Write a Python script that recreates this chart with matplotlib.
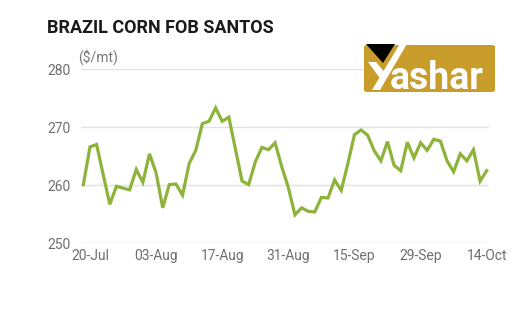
import numpy as np
import matplotlib
matplotlib.use('Agg')
import matplotlib.pyplot as plt
from matplotlib.patches import FancyBboxPatch, Polygon

# daily prices, 17-Jul .. 14-Oct (business days)
prices = [260.1, 266.6, 267.0, 261.8, 256.7, 259.8, 259.5, 259.2, 262.7, 260.5,
          265.4, 262.1, 256.1, 260.1, 260.2, 258.3, 263.7, 266.0, 270.6, 271.0,
          273.3, 271.0, 271.7, 266.2, 260.7, 260.1, 264.0, 266.5, 266.1, 267.3,
          263.2, 259.6, 254.9, 256.1, 255.5, 255.4, 257.9, 257.8, 260.9, 259.1,
          263.7, 268.7, 269.5, 268.6, 265.9, 264.2, 267.5, 263.4, 262.5, 267.4,
          264.7, 267.3, 266.0, 267.9, 267.6, 264.2, 262.3, 265.4, 264.2, 266.1,
          260.7, 262.5]
tick_pos = [1, 11, 21, 31, 41, 51, 61]
tick_labels = ['20-Jul', '03-Aug', '17-Aug', '31-Aug', '15-Sep', '29-Sep', '14-Oct']
y_ticks = [250, 260, 270, 280]

plt.rcParams['font.family'] = ['Roboto', 'DejaVu Sans']

fig = plt.figure(figsize=(5.29, 3.18), dpi=100)
ax = fig.add_axes([0.1526, 0.235, 0.7724, 0.548])

x = np.arange(len(prices))
ax.plot(x, prices, color='#8db33a', lw=2.3, solid_joinstyle='miter', zorder=3)

ax.set_ylim(250, 280)
ax.set_xlim(-0.4, 61.4)
ax.set_yticks(y_ticks)
ax.set_xticks(tick_pos)
ax.set_xticklabels(tick_labels)
ax.grid(axis='y', color='#e2e2e2', lw=1.0)
ax.set_axisbelow(True)
for s in ax.spines.values():
    s.set_visible(False)
ax.tick_params(axis='both', length=0, labelsize=10, labelcolor='#6f6f6f')
ax.tick_params(axis='x', pad=4)
ax.tick_params(axis='y', pad=7)

fig.text(0.148, 0.82, '($/mt)', fontsize=10, color='#777777', ha='left', va='center')
fig.text(0.088, 0.912, 'BRAZIL CORN FOB SANTOS', fontsize=13, fontweight='bold',
         color='#1a1a1a', ha='left', va='center')

# logo
W, H = 529, 318
def fx(px): return px / W
def fy(py): return 1 - py / H
box = FancyBboxPatch((fx(364), fy(92)), fx(495) - fx(364), fy(45) - fy(92),
                     boxstyle='round,pad=0,rounding_size=0.006',
                     transform=fig.transFigure, facecolor='#c99d2b',
                     edgecolor='none', zorder=5)
fig.patches.append(box)
tri = Polygon([(fx(366), fy(44)), (fx(395), fy(44)), (fx(383), fy(63))],
              closed=True, transform=fig.transFigure, facecolor='black', zorder=6)
fig.patches.append(tri)
ystroke = Polygon([(fx(404), fy(37)), (fx(411), fy(37)), (fx(380), fy(90)), (fx(372), fy(90))],
                  closed=True, transform=fig.transFigure, facecolor='white', zorder=6)
fig.patches.append(ystroke)
yleft = Polygon([(fx(368), fy(62)), (fx(376), fy(62)), (fx(386), fy(74)), (fx(382), fy(81))],
                closed=True, transform=fig.transFigure, facecolor='white', zorder=6)
fig.patches.append(yleft)
fig.text(fx(390), fy(89), 'ashar', fontsize=27, fontweight='bold', color='white',
         ha='left', va='baseline', zorder=7)

fig.savefig('out.png', dpi=100)
